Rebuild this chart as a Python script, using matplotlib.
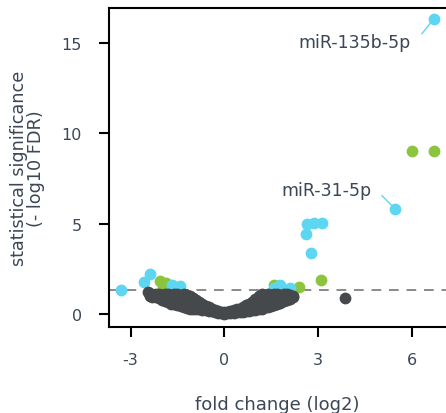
import matplotlib
matplotlib.use("Agg")
import matplotlib.pyplot as plt

# ---- data ----
gray_x = [-2.45,
          -2.38, -2.38,
          -2.30, -2.30,
          -2.20, -2.20,
          -2.10, -2.10, -2.10,
          -2.00, -2.00,
          -1.90, -1.90, -1.90,
          -1.80, -1.80, -1.80,
          -1.70, -1.70, -1.70,
          -1.60, -1.60, -1.60, -1.60,
          -1.50, -1.50, -1.50,
          -1.40, -1.40, -1.40, -1.40,
          -1.30, -1.30, -1.30, -1.30,
          -1.20, -1.20, -1.20,
          -1.10, -1.10, -1.10, -1.10,
          -1.00, -1.00, -1.00,
          -0.90, -0.90, -0.90,
          -0.80, -0.80, -0.80,
          -0.70, -0.70, -0.70,
          -0.60, -0.60,
          -0.50, -0.50,
          -0.40, -0.40,
          -0.30, -0.30,
          -0.20, -0.20,
          -0.10, -0.10,
          0.00, 0.00,
          0.10, 0.10,
          0.20, 0.20,
          0.30, 0.30,
          0.40, 0.40,
          0.50, 0.50,
          0.60, 0.60,
          0.70, 0.70,
          0.80, 0.80, 0.80,
          0.90, 0.90, 0.90,
          1.00, 1.00, 1.00,
          1.10, 1.10, 1.10,
          1.20, 1.20, 1.20, 1.20,
          1.30, 1.30, 1.30,
          1.40, 1.40, 1.40, 1.40,
          1.50, 1.50, 1.50,
          1.60, 1.60, 1.60,
          1.70, 1.70, 1.70,
          1.80, 1.80, 1.80,
          1.90, 1.90, 1.90,
          2.00, 2.00, 2.00,
          2.10, 2.10,
          2.20, 2.20,
          3.88]
gray_y = [1.20,
          1.05, 0.98,
          1.10, 0.95,
          1.08, 0.92,
          1.10, 0.98, 0.86,
          1.05, 0.80,
          1.08, 0.90, 0.72,
          1.10, 0.95, 0.66,
          1.05, 0.82, 0.58,
          1.08, 0.88, 0.68, 0.53,
          1.10, 0.75, 0.48,
          1.05, 0.90, 0.62, 0.42,
          1.08, 0.80, 0.55, 0.38,
          1.05, 0.70, 0.34,
          1.00, 0.78, 0.50, 0.30,
          0.90, 0.60, 0.29,
          0.80, 0.50, 0.27,
          0.68, 0.42, 0.25,
          0.55, 0.35, 0.23,
          0.45, 0.20,
          0.38, 0.18,
          0.30, 0.14,
          0.22, 0.10,
          0.16, 0.07,
          0.12, 0.04,
          0.10, 0.02,
          0.12, 0.04,
          0.15, 0.06,
          0.20, 0.08,
          0.25, 0.10,
          0.30, 0.12,
          0.38, 0.13,
          0.48, 0.15,
          0.58, 0.30, 0.18,
          0.68, 0.40, 0.20,
          0.85, 0.50, 0.23,
          0.98, 0.60, 0.26,
          1.08, 0.75, 0.45, 0.30,
          1.05, 0.80, 0.36,
          1.10, 0.85, 0.60, 0.40,
          1.05, 0.70, 0.45,
          1.08, 0.80, 0.50,
          1.10, 0.85, 0.56,
          1.05, 0.80, 0.62,
          1.08, 0.88, 0.70,
          1.10, 0.95, 0.78,
          1.05, 0.85,
          1.00, 0.94,
          0.88]

green_x = [6.00, 6.70, 3.10, -2.05, -1.85, -1.95, -1.75, 1.60, 2.38]
green_y = [9.00, 9.00, 1.90, 1.80, 1.72, 1.52, 1.48, 1.60, 1.47]

cyan_x = [6.70, 5.48, 2.65, 2.86, 3.13, 2.62, 2.78, -3.30, -2.37, -2.58,
          -1.68, -1.41, 1.79, 2.10, 1.58]
cyan_y = [16.30, 5.80, 4.98, 5.05, 5.03, 4.42, 3.36, 1.35, 2.22, 1.75,
          1.62, 1.55, 1.60, 1.42, 1.44]

labels = ["miR-135b-5p", "miR-31-5p"]
label_pts = [(6.70, 16.30), (5.48, 5.80)]      # labelled points
label_text_pos = [(5.96, 15.04), (4.73, 6.85)]  # right edge of text
label_line_start = [(6.33, 15.50), (5.05, 6.54)]

x_ticks = [-3, 0, 3, 6]
y_ticks = [0, 5, 10, 15]
fdr_cut = 1.3

# ---- style ----
TXT = "#3b4756"
CYAN = "#5dd6f2"
GREEN = "#8dc43d"
GRAY = "#46494c"
plt.rcParams["font.family"] = ["DejaVu Sans"]
MS = 72

fig = plt.figure(figsize=(4.46, 4.14), dpi=100)
ax = fig.add_axes([0.2444, 0.2077, 0.7556, 0.7706])

ax.axhline(fdr_cut, color="#8a8a8a", lw=1.4, ls=(0, (5, 4)), zorder=1)
ax.scatter(green_x, green_y, s=MS, color=GREEN, lw=0, zorder=2)
ax.scatter(cyan_x, cyan_y, s=MS, color=CYAN, lw=0, zorder=2)
ax.scatter(gray_x, gray_y, s=MS, color=GRAY, lw=0, zorder=3)

for lab, pt, tp, ls in zip(labels, label_pts, label_text_pos, label_line_start):
    ax.plot([ls[0], pt[0]], [ls[1], pt[1]], color=CYAN, lw=1.0, zorder=2)
    ax.text(tp[0], tp[1], lab, ha="right", va="center", fontsize=12.5,
            color=TXT, zorder=4)

ax.set_xlim(-3.69, 7.10)
ax.set_ylim(-0.72, 16.92)
ax.set_xticks(x_ticks)
ax.set_yticks(y_ticks)
ax.set_xticklabels([str(t) for t in x_ticks])
ax.set_yticklabels([str(t) for t in y_ticks])

for side in ["left", "bottom", "top"]:
    ax.spines[side].set_linewidth(1.5)
    ax.spines[side].set_color("black")
ax.spines["right"].set_visible(False)
ax.tick_params(axis="both", direction="out", length=7, width=1.5,
               color="black", labelcolor=TXT, labelsize=11.5)
ax.tick_params(axis="x", pad=11)
ax.tick_params(axis="y", pad=12.5)

ax.set_xlabel("fold change (log2)", fontsize=13, color=TXT, labelpad=20)
ax.set_ylabel("statistical significance\n(- log10 FDR)", fontsize=12.7,
              color=TXT, labelpad=12, linespacing=0.95)

fig.savefig("out.png", dpi=100)
